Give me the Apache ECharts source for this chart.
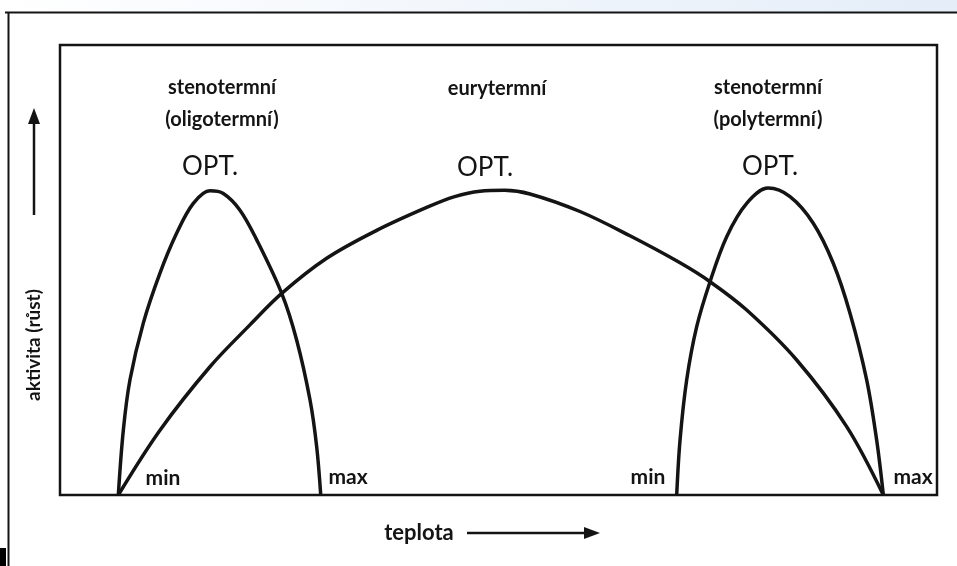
<!DOCTYPE html>
<html>
<head>
<meta charset="utf-8">
<script src="https://cdn.jsdelivr.net/npm/echarts@6/dist/echarts.min.js"></script>
<style>html,body{margin:0;padding:0;background:#fff}#c{width:957px;height:566px}</style>
</head>
<body>
<div id="c"></div>
<script>
// temperature (x, 0-100 of plot width) vs activity (y, 0-100 of plot height)
const oligotermni = [[6.65,0],[7.22,14.4],[7.98,25.6],[9.50,38.2],[11.40,49.3],[13.31,58.2],[15.20,64.8],[17.10,67.6],[18.62,67.0],[20.52,63.3],[22.43,56.7],[25.28,44.8],[26.99,34.4],[28.51,21.1],[29.27,10.7],[29.73,0]];
const eurytermni = [[6.65,0],[11.40,14.4],[17.10,28.5],[21.66,37.8],[25.28,44.8],[30.41,52.6],[36.11,58.8],[41.81,63.9],[45.0,66.3],[47.89,67.5],[50.7,67.7],[53.59,66.9],[59.29,63.0],[64.99,57.6],[70.70,51.6],[74.12,47.4],[78.30,41.1],[84.00,30.0],[89.70,15.2],[93.88,0]];
const polytermni = [[70.32,0],[70.70,12.2],[71.46,25.6],[72.60,37.4],[74.12,47.4],[76.02,57.4],[78.30,64.8],[80.76,68.2],[83.24,66.3],[85.89,60.4],[88.17,51.5],[90.08,40.4],[91.98,25.6],[93.12,12.2],[93.88,0]];

const groupLabels = ['stenotermní\n(oligotermní)', 'eurytermní', 'stenotermní\n(polytermní)'];
const optLabel = 'OPT.';
const minLabel = 'min', maxLabel = 'max';
const xName = 'teplota', yName = 'aktivita (růst)';

const chart = echarts.init(document.getElementById('c'), null, {renderer:'canvas'});
const FONT = 'Lato, "Open Sans", sans-serif';
const ink = '#141414';
function txt(x, y, s, size, weight, extra) {
  return Object.assign({
    type:'text', x:x, y:y,
    style:{text:s, fill:ink, font: (weight||'normal') + ' ' + size + 'px ' + FONT, align:'center', verticalAlign:'middle', lineHeight: 32}
  }, extra||{});
}
const lineStyle = {color:ink, width:3.5};
const mk = (name, data) => ({name, type:'line', data, smooth:0.35, symbol:'none', lineStyle, z:3, silent:true});

chart.setOption({
  animation:false,
  backgroundColor:'#fff',
  grid:{left:60, right:20, top:45, bottom:71, show:true, borderColor:ink, borderWidth:2.5, backgroundColor:'#fff'},
  xAxis:{type:'value', min:0, max:100, axisLine:{show:false}, axisTick:{show:false}, axisLabel:{show:false}, splitLine:{show:false}},
  yAxis:{type:'value', min:0, max:100, axisLine:{show:false}, axisTick:{show:false}, axisLabel:{show:false}, splitLine:{show:false}},
  series:[mk('oligotermní', oligotermni), mk('eurytermní', eurytermni), mk('polytermní', polytermni)],
  graphic:[
    {type:'rect', shape:{x:0,y:0,width:957,height:12}, style:{fill:new echarts.graphic.LinearGradient(0,0,1,0,[{offset:0,color:'#ffffff'},{offset:1,color:'#e4edf8'}])}, z:0},
    {type:'line', shape:{x1:5,y1:12.5,x2:957,y2:12.5}, style:{stroke:ink, lineWidth:2}},
    {type:'line', shape:{x1:8.5,y1:12,x2:8.5,y2:566}, style:{stroke:ink, lineWidth:2}},
    {type:'rect', shape:{x:0,y:548,width:6,height:18}, style:{fill:'#000'}},
    txt(222, 104, groupLabels[0], 20, 'bold'),
    txt(497, 89, groupLabels[1], 20, 'bold'),
    txt(768, 104, groupLabels[2], 20, 'bold'),
    txt(210, 167, optLabel, 26, 'normal'),
    txt(485, 168, optLabel, 26, 'normal'),
    txt(770, 167, optLabel, 26, 'normal'),
    txt(163, 478, minLabel, 21, 'bold'),
    txt(348, 477, maxLabel, 21, 'bold'),
    txt(648, 477, minLabel, 21, 'bold'),
    txt(913, 477, maxLabel, 21, 'bold'),
    txt(419, 533, xName, 22, 'bold'),
    {type:'line', shape:{x1:467,y1:533,x2:588,y2:533}, style:{stroke:ink, lineWidth:2.5}},
    {type:'polygon', shape:{points:[[600,533],[584,527],[584,539]]}, style:{fill:ink}},
    txt(34, 345, yName, 19, 'bold', {rotation:Math.PI/2, x:34, y:345}),
    {type:'line', shape:{x1:34,y1:215,x2:34,y2:122}, style:{stroke:ink, lineWidth:2.5}},
    {type:'polygon', shape:{points:[[34,108],[28,124],[40,124]]}, style:{fill:ink}}
  ]
});
</script>
</body>
</html>
